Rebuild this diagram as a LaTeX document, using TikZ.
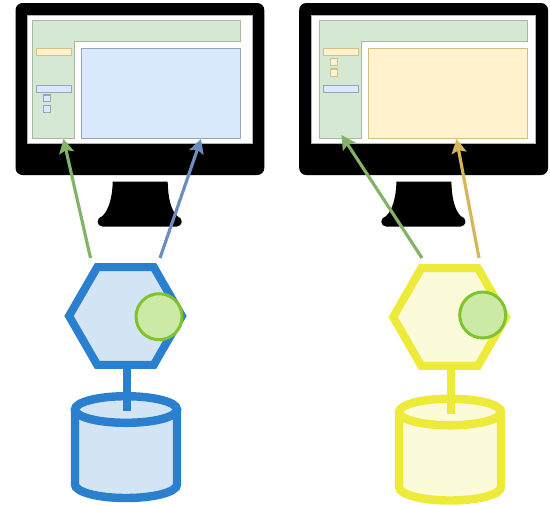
\documentclass[tikz,border=0pt]{standalone}
\usepackage{tikz}
\usetikzlibrary{arrows.meta}
\usetikzlibrary{shapes.geometric}
\definecolor{greenfill}{HTML}{D5E8D4}
\definecolor{greenline}{HTML}{82B366}
\definecolor{bluefill}{HTML}{DAE8FC}
\definecolor{blueline}{HTML}{6C8EBF}
\definecolor{yellowfill}{HTML}{FFF2CC}
\definecolor{yellowline}{HTML}{D6B656}
\definecolor{svcblue}{HTML}{2A80CE}
\definecolor{svcbluefill}{HTML}{D3E4F4}
\definecolor{svcyellow}{HTML}{EEEA3A}
\definecolor{svcyellowfill}{HTML}{FBFBD9}
\definecolor{plugline}{HTML}{7FC42F}
\definecolor{plugfill}{HTML}{CCE9A6}
\tikzset{
  greenpane/.style={draw=greenline!55!gray!70!white,fill=greenfill,line width=0.7pt},
  bluepane/.style={draw=blueline!55!gray!75!white,fill=bluefill,line width=0.7pt},
  yellowpane/.style={draw=yellowline!80!gray!75!white,fill=yellowfill,line width=0.7pt},
  hexnode/.style={shape=regular polygon,regular polygon sides=6,line width=4.6pt,inner sep=0pt,outer sep=0pt,minimum size=2.26cm},
  plugnode/.style={shape=circle,draw=plugline,fill=plugfill,line width=1.7pt,inner sep=0pt,outer sep=0pt,minimum size=0.92cm},
  linkarrow/.style={line width=1.8pt,-{Stealth[length=8pt,width=8.5pt,inset=1.5pt]}}
}
\newcommand{\pane}[5]{ \draw[#5] ( #1 , #2 ) rectangle ( #3 , #4 );}
% black monitor, white screen and foot, shifted by #1
\newcommand{\monitor}[1]{
  \begin{scope}[shift={(#1,0)}]
    \fill[black,rounded corners=4pt] (15.5,3) rectangle (264.3,175);
    \draw[fill=white,draw=gray!60,line width=0.5pt] (27.7,15.5) rectangle (252,143);
    \fill[black] (112.7,181.7) -- (167.7,181.7) .. controls (168,198) and (171,210) .. (177,216)
      .. controls (180,217) and (181.7,219) .. (181.7,221.3) .. controls (181.7,224.5) and (179,226.7) .. (176.5,226.7)
      -- (103,226.7) .. controls (100,226.7) and (97.7,224.5) .. (97.7,221.3) .. controls (97.7,219) and (99.5,217) .. (102.5,216)
      .. controls (108.5,210) and (112.4,198) .. cycle;
  \end{scope}
}
% top bar and side bar together
\newcommand{\sidebar}[1]{
  \begin{scope}[shift={(#1,0)}]
    \draw[greenpane] (32.7,20.7) -- (240.7,20.7) -- (240.7,41.3) -- (74.7,41.3) -- (74.7,138.3) -- (32.7,138.3) -- cycle;
  \end{scope}
}
% database, #1 name, #2 x, #3 y, #4 line, #5 fill
\newcommand{\service}[5]{
  \begin{scope}[shift={(#2,#3)}]
    \draw[#4,fill=#5,line width=4.8pt] (75,409.5) -- (75,484.5) arc[start angle=180,end angle=360,x radius=51,y radius=-13.5]
      -- (177,409.5);
    \draw[#4,fill=#5,line width=4.8pt] (126,409.5) ellipse [x radius=51,y radius=13.3];
    \coordinate (db#1) at (127,411);
  \end{scope}
}
\begin{document}
\begin{tikzpicture}[x=0.02cm,y=-0.02cm]
        \useasboundingbox (0,0) rectangle (550,505);
        % monitors
        \monitor{0}
        \monitor{283.7}
        % left screen
        \sidebar{0}
        \pane{81.3}{48.3}{240.7}{138.3}{bluepane}
        \pane{36.3}{48.3}{71.3}{55.7}{yellowpane}
        \pane{36.3}{85.3}{71.3}{92.7}{bluepane}
        \pane{43.3}{95}{50.7}{101.7}{bluepane}
        \pane{43.3}{105.3}{50.7}{112.7}{bluepane}
        % right screen
        \sidebar{287}
        \pane{368.3}{48.3}{527.7}{138.3}{yellowpane}
        \pane{323.3}{48.3}{358.3}{55.7}{yellowpane}
        \pane{330.3}{58.7}{337.7}{65.7}{yellowpane}
        \pane{330.3}{69}{337.7}{76.3}{yellowpane}
        \pane{323.3}{85.3}{358.3}{92.7}{bluepane}
        % left service
        \service{A}{0}{0}{svcblue}{svcbluefill}
        \node[hexnode,draw=svcblue,fill=svcbluefill] (hexA) at (125.5,316) {};
        \node[plugnode] (plugA) at (159,316.7) {};
        \draw[svcblue,line width=4.6pt] (dbA |- hexA.south) -- (dbA);
        % right service
        \service{B}{324}{2.5}{svcyellow}{svcyellowfill}
        \node[hexnode,draw=svcyellow,fill=svcyellowfill] (hexB) at (449.6,317) {};
        \node[plugnode] (plugB) at (482.7,315) {};
        \draw[svcyellow,line width=4.6pt] (dbB |- hexB.south) -- (dbB);
        % arrow ends
        \coordinate (startA) at (90.5,258);
        \coordinate (startB) at (160,258);
        \coordinate (startC) at (422,258);
        \coordinate (startD) at (479,258);
        \coordinate (sideA) at (63.5,139);
        \coordinate (mainA) at (201,139);
        \coordinate (sideB) at (341.5,135);
        \coordinate (mainB) at (456.5,139);
        % arrows
        \draw[linkarrow,greenline] (startA) -- (sideA);
        \draw[linkarrow,blueline] (startB) -- (mainA);
        \draw[linkarrow,greenline] (startC) -- (sideB);
        \draw[linkarrow,yellowline] (startD) -- (mainB);
\end{tikzpicture}
\end{document}
